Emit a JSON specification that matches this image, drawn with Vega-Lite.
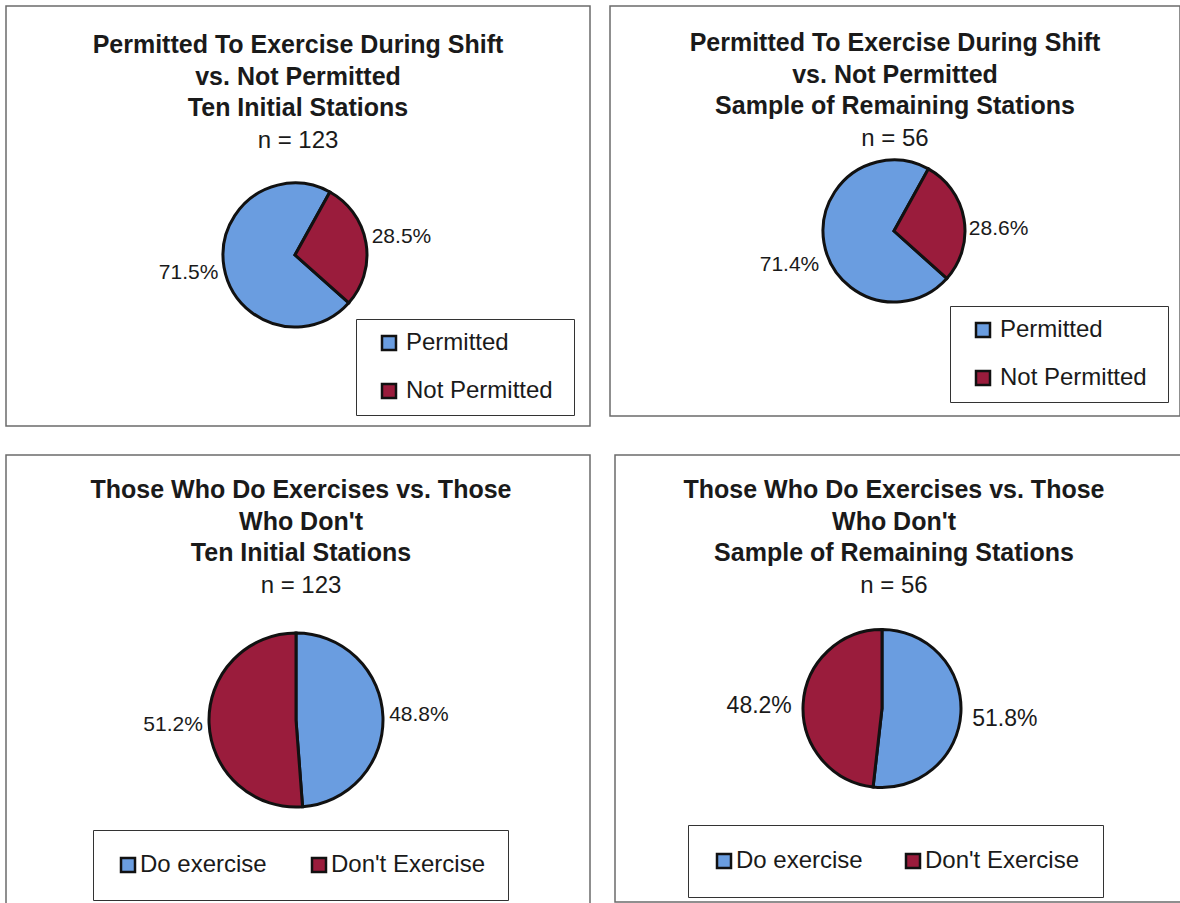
{
  "$schema": "https://vega.github.io/schema/vega-lite/v6.json",
  "padding": {"left": 5, "top": 5, "right": 0, "bottom": 0},
  "background": "white",
  "config": {
    "font": "Liberation Sans",
    "view": {"stroke": "#6b6b6b", "strokeWidth": 1.5},
    "title": {
      "font": "Liberation Sans", "fontSize": 25, "fontWeight": "bold", "color": "#1a1a1a",
      "lineHeight": 31.5, "anchor": "middle", "frame": "group",
      "subtitleFont": "Liberation Sans", "subtitleFontSize": 24, "subtitleColor": "#1a1a1a",
      "subtitleFontWeight": "normal", "subtitlePadding": 8
    },
    "legend": {
      "labelFont": "Liberation Sans", "labelFontSize": 24, "labelColor": "#1a1a1a",
      "symbolType": "square", "symbolSize": 196, "symbolStrokeColor": "#111111",
      "symbolStrokeWidth": 2.5, "symbolOpacity": 1, "strokeColor": "#333333",
      "orient": "none"
    },
    "text": {"font": "Liberation Sans", "color": "#1a1a1a"}
  },
  "spacing": 27,
  "resolve": {"scale": {"color": "independent", "theta": "independent"}, "legend": {"color": "independent"}},
  "vconcat": [
    {
      "spacing": 18,
      "resolve": {"scale": {"color": "independent", "theta": "independent"}, "legend": {"color": "independent"}},
      "hconcat": [
        {
          "width": 584, "height": 420,
          "view": {"stroke": "#6b6b6b", "strokeWidth": 1.5},
          "title": {"text": ["Permitted To Exercise During Shift", "vs. Not Permitted", "Ten Initial Stations"], "subtitle": "n = 123", "offset": -147},
          "data": {"values": [
            {"category": "Permitted", "share": 0.715},
            {"category": "Not Permitted", "share": 0.285}
          ]},
          "layer": [
            {
              "mark": {"type": "arc", "outerRadius": 72, "stroke": "#111111", "strokeWidth": 3, "xOffset": -3, "yOffset": 39},
              "encoding": {
                "theta": {"field": "share", "type": "quantitative", "stack": true, "scale": {"range": [0.506, 6.789]}},
                "order": {"field": "category", "sort": "ascending"},
                "color": {"field": "category", "type": "nominal", "scale": {"domain": ["Permitted", "Not Permitted"], "range": ["#6a9de0", "#9a1c3c"]},
                  "legend": {"title": " ", "titleOrient": "right", "titlePadding": 9, "titleFontSize": 12, "direction": "vertical", "legendX": 350, "legendY": 313, "padding": 12, "rowPadding": 24, "symbolOffset": 9, "labelOffset": 5}}
              }
            },
            {
              "mark": {"type": "text", "radius": 108, "fontSize": 21, "xOffset": -3, "yOffset": 39},
              "encoding": {
                "theta": {"field": "share", "type": "quantitative", "stack": true},
                "order": {"field": "category", "sort": "ascending"},
                "detail": {"field": "category"},
                "text": {"field": "share", "type": "quantitative", "format": ".1%"}
              }
            }
          ]
        },
        {
          "width": 570, "height": 410,
          "view": {"stroke": "#6b6b6b", "strokeWidth": 1.5},
          "title": {"text": ["Permitted To Exercise During Shift", "vs. Not Permitted", "Sample of Remaining Stations"], "subtitle": "n = 56", "offset": -145},
          "data": {"values": [
            {"category": "Permitted", "share": 0.714},
            {"category": "Not Permitted", "share": 0.286}
          ]},
          "layer": [
            {
              "mark": {"type": "arc", "outerRadius": 71, "stroke": "#111111", "strokeWidth": 3, "xOffset": -1, "yOffset": 20},
              "encoding": {
                "theta": {"field": "share", "type": "quantitative", "stack": true, "scale": {"range": [0.506, 6.789]}},
                "order": {"field": "category", "sort": "ascending"},
                "color": {"field": "category", "type": "nominal", "scale": {"domain": ["Permitted", "Not Permitted"], "range": ["#6a9de0", "#9a1c3c"]},
                  "legend": {"title": " ", "titleOrient": "right", "titlePadding": 9, "titleFontSize": 12, "direction": "vertical", "legendX": 340, "legendY": 300, "padding": 12, "rowPadding": 24, "symbolOffset": 9, "labelOffset": 5}}
              }
            },
            {
              "mark": {"type": "text", "radius": 106, "fontSize": 21, "xOffset": -1, "yOffset": 36},
              "encoding": {
                "theta": {"field": "share", "type": "quantitative", "stack": true},
                "order": {"field": "category", "sort": "ascending"},
                "detail": {"field": "category"},
                "text": {"field": "share", "type": "quantitative", "format": ".1%"}
              }
            }
          ]
        }
      ]
    },
    {
      "spacing": 23,
      "resolve": {"scale": {"color": "independent", "theta": "independent"}, "legend": {"color": "independent"}},
      "hconcat": [
        {
          "width": 584, "height": 450,
          "view": {"stroke": "#6b6b6b", "strokeWidth": 1.5},
          "title": {"text": ["Those Who Do Exercises vs. Those", "Who Don't", "Ten Initial Stations"], "subtitle": "n = 123", "offset": -143, "dx": 3},
          "data": {"values": [
            {"category": "Do exercise", "share": 0.488},
            {"category": "Don't Exercise", "share": 0.512}
          ]},
          "layer": [
            {
              "mark": {"type": "arc", "outerRadius": 87, "stroke": "#111111", "strokeWidth": 3, "xOffset": -2, "yOffset": 40},
              "encoding": {
                "theta": {"field": "share", "type": "quantitative", "stack": true, "scale": {"range": [0, 6.2832]}},
                "order": {"field": "category", "sort": "ascending"},
                "color": {"field": "category", "type": "nominal", "scale": {"domain": ["Do exercise", "Don't Exercise"], "range": ["#6a9de0", "#9a1c3c"]},
                  "legend": {"title": null, "direction": "horizontal", "legendX": 87, "legendY": 375, "padding": 23, "columnPadding": 40, "labelOffset": 0}}
              }
            },
            {
              "mark": {"type": "text", "radius": 123, "fontSize": 21, "xOffset": -2, "yOffset": 40},
              "encoding": {
                "theta": {"field": "share", "type": "quantitative", "stack": true},
                "order": {"field": "category", "sort": "ascending"},
                "detail": {"field": "category"},
                "text": {"field": "share", "type": "quantitative", "format": ".1%"}
              }
            }
          ]
        },
        {
          "width": 566, "height": 447,
          "view": {"stroke": "#6b6b6b", "strokeWidth": 1.5},
          "title": {"text": ["Those Who Do Exercises vs. Those", "Who Don't", "Sample of Remaining Stations"], "subtitle": "n = 56", "offset": -143, "dx": -4},
          "data": {"values": [
            {"category": "Do exercise", "share": 0.518},
            {"category": "Don't Exercise", "share": 0.482}
          ]},
          "layer": [
            {
              "mark": {"type": "arc", "outerRadius": 79, "stroke": "#111111", "strokeWidth": 3, "xOffset": -16, "yOffset": 30},
              "encoding": {
                "theta": {"field": "share", "type": "quantitative", "stack": true, "scale": {"range": [0, 6.2832]}},
                "order": {"field": "category", "sort": "ascending"},
                "color": {"field": "category", "type": "nominal", "scale": {"domain": ["Do exercise", "Don't Exercise"], "range": ["#6a9de0", "#9a1c3c"]},
                  "legend": {"title": null, "direction": "horizontal", "legendX": 73, "legendY": 370, "padding": 24, "columnPadding": 38, "labelOffset": 0}}
              }
            },
            {
              "mark": {"type": "text", "radius": 123, "fontSize": 23, "xOffset": -16, "yOffset": 34},
              "encoding": {
                "theta": {"field": "share", "type": "quantitative", "stack": true},
                "order": {"field": "category", "sort": "ascending"},
                "detail": {"field": "category"},
                "text": {"field": "share", "type": "quantitative", "format": ".1%"}
              }
            }
          ]
        }
      ]
    }
  ]
}
